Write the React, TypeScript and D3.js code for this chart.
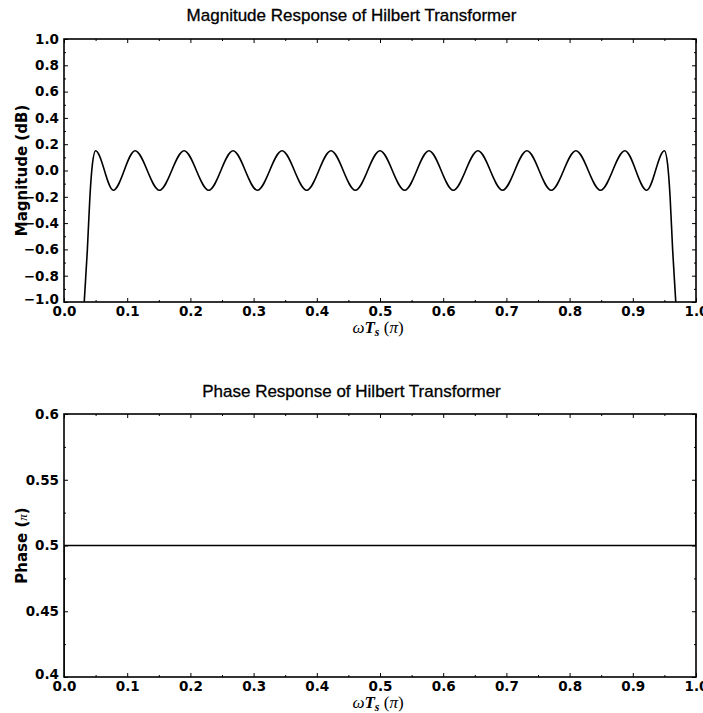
import { useRef, useEffect } from 'react';
import * as d3 from 'd3';

// magnitude response (dB), ripple extrema + band edges
const magFreq = [0.022, 0.032, 0.037, 0.041, 0.045, 0.05, 0.078, 0.1125, 0.151, 0.19, 0.229, 0.2675, 0.306, 0.345, 0.384, 0.4225, 0.461, 0.5, 0.539, 0.5775, 0.616, 0.655, 0.694, 0.7325, 0.771, 0.81, 0.849, 0.8875, 0.922, 0.95, 0.955, 0.959, 0.963, 0.968, 0.978];
const magDb = [-2.0, -1.0, -0.6, -0.2, 0.05, 0.15, -0.15, 0.15, -0.15, 0.15, -0.15, 0.15, -0.15, 0.15, -0.15, 0.15, -0.15, 0.15, -0.15, 0.15, -0.15, 0.15, -0.15, 0.15, -0.15, 0.15, -0.15, 0.15, -0.15, 0.15, 0.05, -0.2, -0.6, -1.0, -2.0];

// phase response (units of pi)
const phaseFreq = [0, 0, 1, 1];
const phaseVal = [0.3, 0.5, 0.5, 0.7];

const xTicks = [0, 0.1, 0.2, 0.3, 0.4, 0.5, 0.6, 0.7, 0.8, 0.9, 1.0];
const xMinor = [0.05, 0.15, 0.25, 0.35, 0.45, 0.55, 0.65, 0.75, 0.85, 0.95];
const magTicks = [-1.0, -0.8, -0.6, -0.4, -0.2, 0.0, 0.2, 0.4, 0.6, 0.8, 1.0];
const magMinor = [-0.9, -0.7, -0.5, -0.3, -0.1, 0.1, 0.3, 0.5, 0.7, 0.9];
const phaseTicks = [0.4, 0.45, 0.5, 0.55, 0.6];
const phaseMinor = [0.425, 0.475, 0.525, 0.575];
const phaseTickLabels = ['0.4', '0.45', '0.5', '0.55', '0.6'];

const W = 703;
const H = 713;
const left = 64;
const right = 696;

const fmtMinus = (d) => d3.format('.1f')(d).replace('-', '\u2212');

const drawPanel = (svg, cfg) => {
  const { top, bottom, yDomain, yTicks, yMinor, yFormat, title, titleY, X, Y, id, yLabel } = cfg;
  const x = d3.scaleLinear([0, 1], [left, right]);
  const y = d3.scaleLinear(yDomain, [bottom, top]);
  const g = svg.append('g');

  g.append('clipPath').attr('id', id)
    .append('rect').attr('x', left).attr('y', top).attr('width', right - left).attr('height', bottom - top);

  const tickStyle = (sel) => {
    sel.select('.domain').remove();
    sel.selectAll('.tick line').attr('stroke', '#000').attr('stroke-width', 1);
    sel.selectAll('.tick text')
      .attr('fill', '#000')
      .attr('font-family', 'DejaVu Sans')
      .attr('font-weight', 'bold')
      .attr('font-size', 13.5);
  };

  // bottom
  g.append('g').attr('transform', `translate(0,${bottom})`)
    .call(d3.axisBottom(x).tickValues(xTicks).tickSize(-4).tickPadding(4).tickFormat(d3.format('.1f')))
    .call(tickStyle);
  g.append('g').attr('transform', `translate(0,${bottom})`)
    .call(d3.axisBottom(x).tickValues(xMinor).tickSize(-2).tickFormat(() => ''))
    .call(tickStyle);
  // top
  g.append('g').attr('transform', `translate(0,${top})`)
    .call(d3.axisTop(x).tickValues(xTicks).tickSize(-4).tickFormat(() => ''))
    .call(tickStyle);
  g.append('g').attr('transform', `translate(0,${top})`)
    .call(d3.axisTop(x).tickValues(xMinor).tickSize(-2).tickFormat(() => ''))
    .call(tickStyle);
  // left
  g.append('g').attr('transform', `translate(${left},0)`)
    .call(d3.axisLeft(y).tickValues(yTicks).tickSize(-4).tickPadding(5).tickFormat(yFormat))
    .call(tickStyle)
    // lowest label sits a little above the corner, as in the original
    .call((s) => s.selectAll('.tick text').filter((d) => d === yDomain[0]).attr('y', -3));
  g.append('g').attr('transform', `translate(${left},0)`)
    .call(d3.axisLeft(y).tickValues(yMinor).tickSize(-2).tickFormat(() => ''))
    .call(tickStyle);
  // right
  g.append('g').attr('transform', `translate(${right},0)`)
    .call(d3.axisRight(y).tickValues(yTicks).tickSize(-4).tickFormat(() => ''))
    .call(tickStyle);
  g.append('g').attr('transform', `translate(${right},0)`)
    .call(d3.axisRight(y).tickValues(yMinor).tickSize(-2).tickFormat(() => ''))
    .call(tickStyle);

  // curve
  const I = d3.range(X.length);
  const line = d3.line()
    .curve(d3.curveMonotoneX)
    .x((i) => x(X[i]))
    .y((i) => y(Y[i]));
  g.append('path')
    .attr('clip-path', `url(#${id})`)
    .attr('fill', 'none')
    .attr('stroke', '#000')
    .attr('stroke-width', 1.6)
    .attr('d', line(I));

  // frame
  g.append('rect')
    .attr('x', left).attr('y', top)
    .attr('width', right - left).attr('height', bottom - top)
    .attr('fill', 'none').attr('stroke', '#000').attr('stroke-width', 1.6);

  // title
  g.append('text')
    .attr('x', W / 2).attr('y', titleY)
    .attr('text-anchor', 'middle')
    .attr('font-family', 'Liberation Sans')
    .attr('font-size', 17)
    .attr('stroke', '#000')
    .attr('stroke-width', 0.3)
    .attr('fill', '#000')
    .text(title);

  // x label: omega T_s (pi)
  const xl = g.append('text')
    .attr('x', (left + right) / 2 - 2).attr('y', bottom + 31)
    .attr('text-anchor', 'middle')
    .attr('font-family', 'Liberation Serif')
    .attr('font-size', 17)
    .attr('fill', '#000');
  xl.append('tspan').attr('font-style', 'italic').text('\u03c9');
  xl.append('tspan').attr('font-style', 'italic').attr('font-weight', 'bold').text('T');
  xl.append('tspan').attr('font-style', 'italic').attr('font-weight', 'bold').attr('font-size', 12).attr('dy', 3).text('s');
  xl.append('tspan').attr('dy', -3).text(' (');
  xl.append('tspan').attr('font-style', 'italic').text('\u03c0');
  xl.append('tspan').text(')');

  // y label
  const yl = g.append('text')
    .attr('transform', `translate(26.5,${(top + bottom) / 2}) rotate(-90)`)
    .attr('text-anchor', 'middle')
    .attr('font-family', 'DejaVu Sans')
    .attr('font-weight', 'bold')
    .attr('font-size', 15)
    .attr('fill', '#000');
  yLabel(yl);
};

const App = () => {
  const ref = useRef(null);

  useEffect(() => {
    ref.current.innerHTML = '';
    const svg = d3.select(ref.current)
      .append('svg')
      .attr('width', W)
      .attr('height', H)
      .attr('viewBox', [0, 0, W, H])
      .style('display', 'block')
      .style('background', '#fff');

    drawPanel(svg, {
      id: 'clipMag',
      top: 39,
      bottom: 302,
      yDomain: [-1, 1],
      yTicks: magTicks,
      yMinor: magMinor,
      yFormat: fmtMinus,
      title: 'Magnitude Response of Hilbert Transformer',
      titleY: 21,
      X: magFreq,
      Y: magDb,
      yLabel: (t) => t.text('Magnitude (dB)'),
    });

    drawPanel(svg, {
      id: 'clipPhase',
      top: 414,
      bottom: 677,
      yDomain: [0.4, 0.6],
      yTicks: phaseTicks,
      yMinor: phaseMinor,
      yFormat: (d) => phaseTickLabels[phaseTicks.indexOf(d)],
      title: 'Phase Response of Hilbert Transformer',
      titleY: 397,
      X: phaseFreq,
      Y: phaseVal,
      yLabel: (t) => {
        t.append('tspan').text('Phase (');
        t.append('tspan').attr('font-family', 'Liberation Serif').attr('font-style', 'italic').attr('font-weight', 'normal').attr('font-size', 13).text('\u03c0');
        t.append('tspan').text(')');
      },
    });
  }, []);

  return <div ref={ref} style={{ position: 'absolute', left: 0, top: 0 }} />;
};

export default App;
